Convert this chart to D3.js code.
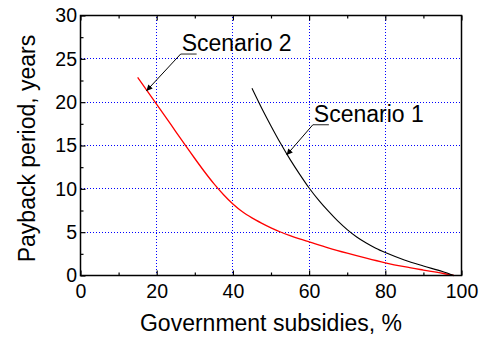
<!DOCTYPE html>
<html>
<head>
<meta charset="utf-8">
<script src="https://cdn.jsdelivr.net/npm/d3@7"></script>
<style>
  body { margin: 0; background: #fff; }
  svg { display: block; font-family: Arial, "Liberation Sans", sans-serif; }
</style>
</head>
<body>
<svg id="canvas" width="489" height="340"></svg>
<script>
// subsidies (%) and payback period (years)
const subsidies2 = [15, 17.5, 20, 22.5, 25, 27.5, 30, 32.5, 35, 37.5, 40, 42.5, 45, 47.5, 50, 52.5, 55, 57.5, 60, 65, 70, 75, 80, 85, 90, 95, 98];
const payback2   = [22.85, 21.3, 19.75, 18.2, 16.6, 15.05, 13.5, 12.0, 10.6, 9.35, 8.25, 7.35, 6.65, 6.05, 5.5, 5.02, 4.6, 4.22, 3.88, 3.2, 2.58, 2.0, 1.47, 1.02, 0.63, 0.26, 0];

const subsidies1 = [45, 47.5, 50, 52.5, 55, 57.5, 60, 62.5, 65, 67.5, 70, 72.5, 75, 77.5, 80, 85, 90, 95, 98];
const payback1   = [21.6, 19.35, 17.25, 15.25, 13.4, 11.7, 10.1, 8.7, 7.45, 6.3, 5.3, 4.45, 3.75, 3.15, 2.65, 1.8, 1.1, 0.45, 0];

const xTicks = [0, 20, 40, 60, 80, 100];
const xMinor = [10, 30, 50, 70, 90];
const yTicks = [0, 5, 10, 15, 20, 25, 30];
const yMinor = [2.5, 7.5, 12.5, 17.5, 22.5, 27.5];
const xGrid = [20, 40, 60, 80];
const yGrid = [5, 10, 15, 20, 25];

// annotations: label text, text anchor (data units), arrow tip (data units)
const noteNames = ["Scenario 2", "Scenario 1"];
const noteX = [26.55, 61.25];
const noteY = [25.9, 17.74];
const tipX = [17.3, 54.1];
const tipY = [21.3, 13.9];

const plotLeft = 80.5, plotRight = 461.5, plotTop = 15.5, plotBottom = 275.5;

let canvas = d3.select("#canvas");

let x = d3.scaleLinear().domain([0, 100]).range([plotLeft, plotRight]);
let y = d3.scaleLinear().domain([0, 30]).range([plotBottom, plotTop]);

let crisp = (v) => Math.round(v - 0.5) + 0.5;

// grid
let grid = canvas.append("g")
                 .attr("stroke", "#0000ff")
                 .attr("stroke-width", 1)
                 .attr("stroke-dasharray", "1,2")
                 .attr("shape-rendering", "crispEdges");

grid.selectAll(".gx")
    .data(xGrid)
    .enter()
    .append("line")
    .attr("x1", (d) => crisp(x(d)))
    .attr("x2", (d) => crisp(x(d)))
    .attr("y1", plotBottom)
    .attr("y2", plotTop);

grid.selectAll(".gy")
    .data(yGrid)
    .enter()
    .append("line")
    .attr("x1", plotLeft)
    .attr("x2", plotRight)
    .attr("y1", (d) => crisp(y(d)))
    .attr("y2", (d) => crisp(y(d)));

// curves
let line = d3.line()
             .x((d) => x(d[0]))
             .y((d) => y(d[1]))
             .curve(d3.curveMonotoneX);

canvas.append("path")
      .datum(d3.zip(subsidies2, payback2))
      .attr("fill", "none")
      .attr("stroke", "#ff0000")
      .attr("stroke-width", 1.3)
      .attr("d", line);

canvas.append("path")
      .datum(d3.zip(subsidies1, payback1))
      .attr("fill", "none")
      .attr("stroke", "#000")
      .attr("stroke-width", 1.1)
      .attr("d", line);

// axes, ticks pointing inward
let styleAxis = (g) => {
  g.select(".domain").remove();
  g.selectAll("line").attr("stroke", "#000").attr("stroke-width", 1.2);
  g.selectAll("text").attr("font-size", "19.5px").attr("fill", "#000");
};

canvas.append("g")
      .attr("transform", `translate(0,${plotBottom})`)
      .call(d3.axisBottom(x).tickValues(xTicks).tickSize(-5).tickPadding(9).tickFormat(d3.format("d")))
      .call(styleAxis);

canvas.append("g")
      .attr("transform", `translate(0,${plotBottom})`)
      .call(d3.axisBottom(x).tickValues(xMinor).tickSize(-3).tickFormat(""))
      .call(styleAxis);

canvas.append("g")
      .attr("transform", `translate(0,${plotTop})`)
      .call(d3.axisTop(x).tickValues(xTicks).tickSize(-5).tickFormat(""))
      .call(styleAxis);

canvas.append("g")
      .attr("transform", `translate(0,${plotTop})`)
      .call(d3.axisTop(x).tickValues(xMinor).tickSize(-3).tickFormat(""))
      .call(styleAxis);

canvas.append("g")
      .attr("transform", `translate(${plotLeft},0)`)
      .call(d3.axisLeft(y).tickValues(yTicks).tickSize(-5).tickPadding(3.5).tickFormat(d3.format("d")))
      .call(styleAxis);

canvas.append("g")
      .attr("transform", `translate(${plotLeft},0)`)
      .call(d3.axisLeft(y).tickValues(yMinor).tickSize(-3).tickFormat(""))
      .call(styleAxis);

// frame
canvas.append("rect")
      .attr("x", plotLeft)
      .attr("y", plotTop)
      .attr("width", plotRight - plotLeft)
      .attr("height", plotBottom - plotTop)
      .attr("fill", "none")
      .attr("stroke", "#000")
      .attr("stroke-width", 1.5);

// axis titles
canvas.append("text")
      .attr("x", (plotLeft + plotRight) / 2)
      .attr("y", 331)
      .attr("text-anchor", "middle")
      .attr("font-size", "23px")
      .text("Government subsidies, %");

canvas.append("text")
      .attr("transform", `translate(35,${(plotTop + plotBottom) / 2 + 3}) rotate(-90)`)
      .attr("text-anchor", "middle")
      .attr("font-size", "23px")
      .text("Payback period, years");

// arrow annotations
canvas.append("defs")
      .append("marker")
      .attr("id", "arrow")
      .attr("viewBox", "0 0 10 10")
      .attr("refX", 10)
      .attr("refY", 5)
      .attr("markerWidth", 8)
      .attr("markerHeight", 6)
      .attr("markerUnits", "userSpaceOnUse")
      .attr("orient", "auto")
      .append("path")
      .attr("d", "M0,0 L10,5 L0,10 Z")
      .attr("fill", "#000");

let notes = canvas.selectAll(".note")
                  .data(noteNames.map((name, i) => ({name: name, tx: noteX[i], ty: noteY[i], px: tipX[i], py: tipY[i]})))
                  .enter()
                  .append("g")
                  .attr("class", "note");

notes.append("text")
     .attr("x", (d) => x(d.tx))
     .attr("y", (d) => y(d.ty))
     .attr("font-size", "23px")
     .text((d) => d.name);

notes.append("line")
     .attr("x1", (d) => x(d.tx) - 1)
     .attr("x2", (d) => x(d.tx) + 15)
     .attr("y1", (d) => y(d.ty) + 3)
     .attr("y2", (d) => y(d.ty) + 3)
     .attr("stroke", "#222")
     .attr("stroke-width", 1);

notes.append("line")
     .attr("x1", (d) => x(d.tx) - 1)
     .attr("y1", (d) => y(d.ty) + 3)
     .attr("x2", (d) => x(d.px))
     .attr("y2", (d) => y(d.py))
     .attr("stroke", "#000")
     .attr("stroke-width", 1)
     .attr("marker-end", "url(#arrow)");
</script>
</body>
</html>
